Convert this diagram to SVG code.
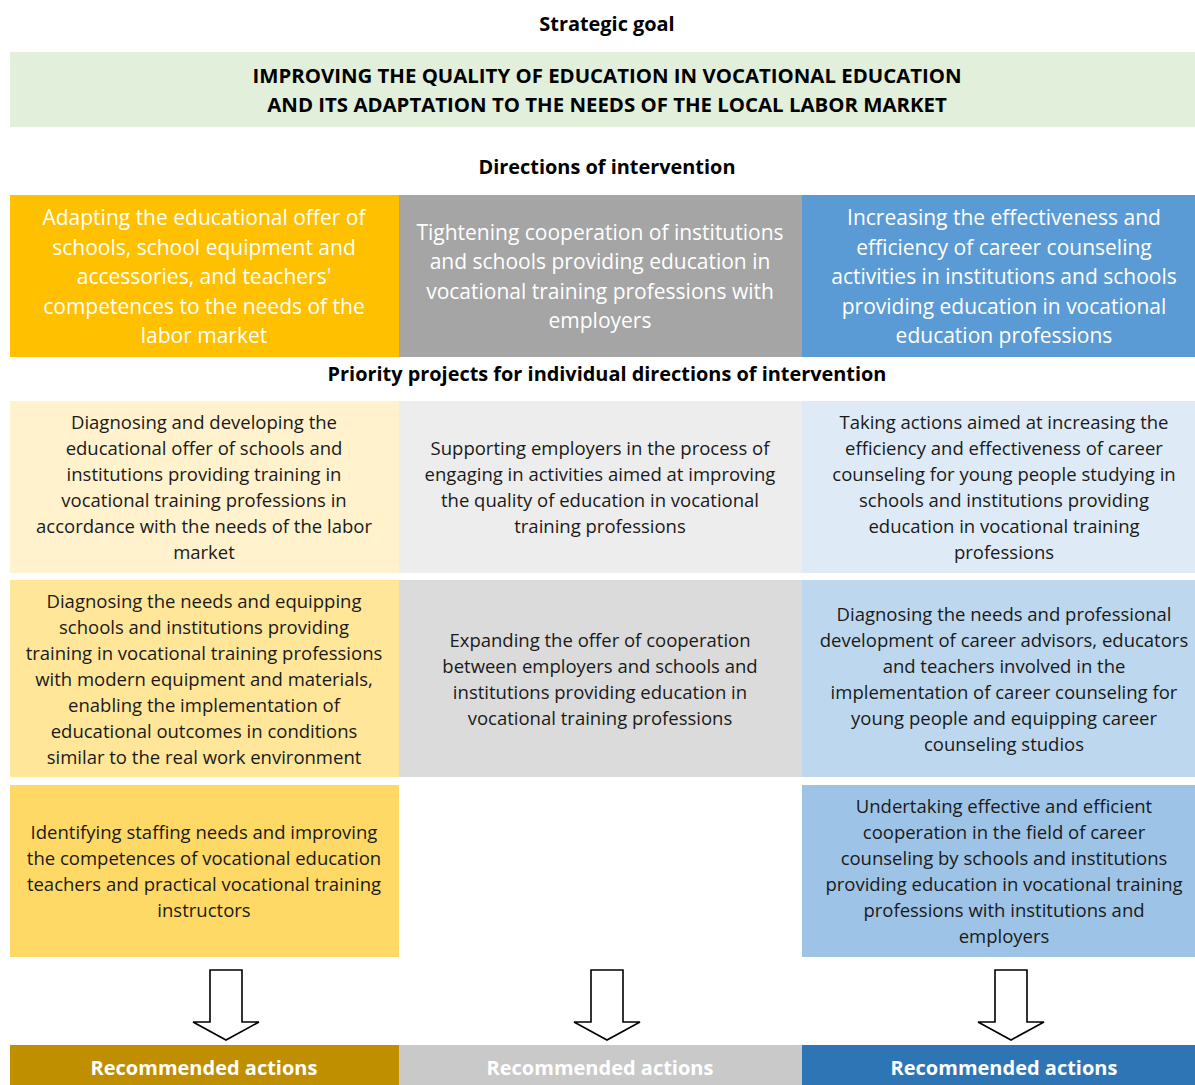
<svg xmlns="http://www.w3.org/2000/svg" width="1195" height="1085" viewBox="0 0 1195 1085">
<style>
text{font-family:"Open Sans","Liberation Sans",Arial,sans-serif;text-anchor:middle}
.t{font-weight:bold;font-size:19.9px;fill:#000}
.g{font-weight:bold;font-size:20.4px;fill:#000}
.h{font-size:21px;fill:#fff}
.b{font-size:18.5px;fill:#1a1a1a}
.r{font-weight:bold;font-size:20px;fill:#fff}
.arrow{fill:#fff;stroke:#000;stroke-width:1.6}
</style>
<rect width="1195" height="1085" fill="#fff"/>
<g id="title-strategic"><text class="t" x="607" y="31">Strategic goal</text></g>
<g id="goal">
<rect x="10" y="52" width="1185" height="75" fill="#E2EFDA"/>
<text class="g" x="607" y="83">IMPROVING THE QUALITY OF EDUCATION IN VOCATIONAL EDUCATION</text>
<text class="g" x="607" y="112">AND ITS ADAPTATION TO THE NEEDS OF THE LOCAL LABOR MARKET</text>
</g>
<g id="title-directions"><text class="t" x="607" y="174">Directions of intervention</text></g>
<g id="dir1">
<rect x="10" y="195" width="389" height="162" fill="#FFC000"/>
<text class="h" x="204" y="225">Adapting the educational offer of</text>
<text class="h" x="204" y="255">schools, school equipment and</text>
<text class="h" x="204" y="284">accessories, and teachers'</text>
<text class="h" x="204" y="314">competences to the needs of the</text>
<text class="h" x="204" y="343">labor market</text>
</g>
<g id="dir2">
<rect x="399" y="195" width="403" height="162" fill="#A5A5A5"/>
<text class="h" x="600" y="240">Tightening cooperation of institutions</text>
<text class="h" x="600" y="269">and schools providing education in</text>
<text class="h" x="600" y="299">vocational training professions with</text>
<text class="h" x="600" y="328">employers</text>
</g>
<g id="dir3">
<rect x="802" y="195" width="393" height="162" fill="#5B9BD5"/>
<text class="h" x="1004" y="225">Increasing the effectiveness and</text>
<text class="h" x="1004" y="255">efficiency of career counseling</text>
<text class="h" x="1004" y="284">activities in institutions and schools</text>
<text class="h" x="1004" y="314">providing education in vocational</text>
<text class="h" x="1004" y="343">education professions</text>
</g>
<g id="title-priority"><text class="t" x="607" y="381">Priority projects for individual directions of intervention</text></g>
<g id="p11">
<rect x="10" y="401" width="389" height="172" fill="#FFF2CC"/>
<text class="b" x="204" y="429">Diagnosing and developing the</text>
<text class="b" x="204" y="455">educational offer of schools and</text>
<text class="b" x="204" y="481">institutions providing training in</text>
<text class="b" x="204" y="507">vocational training professions in</text>
<text class="b" x="204" y="533">accordance with the needs of the labor</text>
<text class="b" x="204" y="559">market</text>
</g>
<g id="p12">
<rect x="399" y="401" width="403" height="172" fill="#EDEDED"/>
<text class="b" x="600" y="455">Supporting employers in the process of</text>
<text class="b" x="600" y="481">engaging in activities aimed at improving</text>
<text class="b" x="600" y="507">the quality of education in vocational</text>
<text class="b" x="600" y="533">training professions</text>
</g>
<g id="p13">
<rect x="802" y="401" width="393" height="172" fill="#DEEBF7"/>
<text class="b" x="1004" y="429">Taking actions aimed at increasing the</text>
<text class="b" x="1004" y="455">efficiency and effectiveness of career</text>
<text class="b" x="1004" y="481">counseling for young people studying in</text>
<text class="b" x="1004" y="507">schools and institutions providing</text>
<text class="b" x="1004" y="533">education in vocational training</text>
<text class="b" x="1004" y="559">professions</text>
</g>
<g id="p21">
<rect x="10" y="580" width="389" height="197" fill="#FFE699"/>
<text class="b" x="204" y="608">Diagnosing the needs and equipping</text>
<text class="b" x="204" y="634">schools and institutions providing</text>
<text class="b" x="204" y="660">training in vocational training professions</text>
<text class="b" x="204" y="686">with modern equipment and materials,</text>
<text class="b" x="204" y="712">enabling the implementation of</text>
<text class="b" x="204" y="738">educational outcomes in conditions</text>
<text class="b" x="204" y="764">similar to the real work environment</text>
</g>
<g id="p22">
<rect x="399" y="580" width="403" height="197" fill="#DBDBDB"/>
<text class="b" x="600" y="647">Expanding the offer of cooperation</text>
<text class="b" x="600" y="673">between employers and schools and</text>
<text class="b" x="600" y="699">institutions providing education in</text>
<text class="b" x="600" y="725">vocational training professions</text>
</g>
<g id="p23">
<rect x="802" y="580" width="393" height="197" fill="#BDD7EE"/>
<text class="b" x="1004" y="621">Diagnosing the needs and professional</text>
<text class="b" x="1004" y="647">development of career advisors, educators</text>
<text class="b" x="1004" y="673">and teachers involved in the</text>
<text class="b" x="1004" y="699">implementation of career counseling for</text>
<text class="b" x="1004" y="725">young people and equipping career</text>
<text class="b" x="1004" y="751">counseling studios</text>
</g>
<g id="p31">
<rect x="10" y="785" width="389" height="172" fill="#FFD966"/>
<text class="b" x="204" y="839">Identifying staffing needs and improving</text>
<text class="b" x="204" y="865">the competences of vocational education</text>
<text class="b" x="204" y="891">teachers and practical vocational training</text>
<text class="b" x="204" y="917">instructors</text>
</g>
<g id="p33">
<rect x="802" y="785" width="393" height="172" fill="#9DC3E6"/>
<text class="b" x="1004" y="813">Undertaking effective and efficient</text>
<text class="b" x="1004" y="839">cooperation in the field of career</text>
<text class="b" x="1004" y="865">counseling by schools and institutions</text>
<text class="b" x="1004" y="891">providing education in vocational training</text>
<text class="b" x="1004" y="917">professions with institutions and</text>
<text class="b" x="1004" y="943">employers</text>
</g>
<g id="connectors">
<path class="arrow" d="M210,970 H242 V1022 H259 L226,1040 L193,1022 H210 Z"/>
<path class="arrow" d="M591,970 H623 V1022 H640 L607,1040 L574,1022 H591 Z"/>
<path class="arrow" d="M995,970 H1027 V1022 H1044 L1011,1040 L978,1022 H995 Z"/>
</g>
<g id="act1">
<rect x="10" y="1045" width="389" height="40" fill="#BF8F00"/>
<text class="r" x="204" y="1075">Recommended actions</text>
</g>
<g id="act2">
<rect x="399" y="1045" width="403" height="40" fill="#C9C9C9"/>
<text class="r" x="600" y="1075">Recommended actions</text>
</g>
<g id="act3">
<rect x="802" y="1045" width="393" height="40" fill="#2E75B6"/>
<text class="r" x="1004" y="1075">Recommended actions</text>
</g>
</svg>
